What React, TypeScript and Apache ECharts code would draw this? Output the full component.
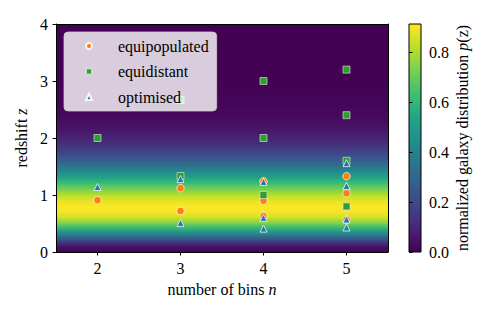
import React, { useEffect, useRef } from "react";
import * as echarts from "echarts";

// ---------- data ----------
const nBins = [2, 3, 4, 5];
const equipopulated = [[0.91], [0.72, 1.12], [0.63, 0.9, 1.24], [0.57, 0.79, 1.03, 1.33]];
const equidistant = [[2.0], [1.333, 2.667], [1.0, 2.0, 3.0], [0.8, 1.6, 2.4, 3.2]];
const optimised = [[1.14], [0.51, 1.28], [0.41, 0.6, 1.23], [0.43, 0.57, 1.16, 1.56]];

const redshiftGrid = [
  0.0, 0.1, 0.2, 0.3, 0.4, 0.5, 0.6, 0.7, 0.8, 0.9, 1.0, 1.1, 1.2, 1.3, 1.4, 1.5, 1.6, 1.7, 1.8, 1.9, 2.0,
  2.1, 2.2, 2.3, 2.4, 2.5, 2.6, 2.7, 2.8, 2.9, 3.0, 3.1, 3.2, 3.3, 3.4, 3.5, 3.6, 3.7, 3.8, 3.9, 4.0,
];
const pz = [
  0.0, 0.055, 0.195, 0.379, 0.566, 0.725, 0.839, 0.9, 0.91, 0.877, 0.812, 0.726, 0.629, 0.531, 0.437, 0.351,
  0.277, 0.214, 0.162, 0.121, 0.089, 0.064, 0.046, 0.032, 0.022, 0.015, 0.01, 0.007, 0.005, 0.003, 0.002,
  0.001, 0.001, 0.0, 0.0, 0.0, 0.0, 0.0, 0.0, 0.0, 0.0,
];
const pMax = 0.912;

const xTicks = [2, 3, 4, 5];
const yTicks = [0, 1, 2, 3, 4];
const colorbarTicks = [0, 0.2, 0.4, 0.6, 0.8];

// ---------- styling ----------
const SERIF = "Liberation Serif";
const FS = 16;
const VIRIDIS = [
  "#440154", "#482475", "#414487", "#355f8d", "#2a788e", "#21918c",
  "#22a884", "#44bf70", "#7ad151", "#bddf26", "#fde725",
];

function hexToRgb(h: string) {
  const v = parseInt(h.slice(1), 16);
  return [(v >> 16) & 255, (v >> 8) & 255, v & 255];
}
const VIRIDIS_RGB = VIRIDIS.map(hexToRgb);
function cmap(t: number) {
  const c = Math.max(0, Math.min(1, t)) * (VIRIDIS_RGB.length - 1);
  const i = Math.min(Math.floor(c), VIRIDIS_RGB.length - 2);
  const f = c - i;
  const a = VIRIDIS_RGB[i];
  const b = VIRIDIS_RGB[i + 1];
  const r = a.map((v, k) => Math.round(v + (b[k] - v) * f));
  return `rgb(${r[0]},${r[1]},${r[2]})`;
}

const heatData = redshiftGrid.slice(0, -1).map((z, i) => [z, redshiftGrid[i + 1], pz[i], pz[i + 1]]);

function toPoints(edges: number[][]) {
  const pts: number[][] = [];
  edges.forEach((list, i) => list.forEach((z) => pts.push([nBins[i], z])));
  return pts;
}

const hiddenAxis = {
  axisLabel: { show: false },
  axisTick: { show: false },
  splitLine: { show: false },
  axisLine: { show: true, onZero: false, lineStyle: { color: "#000", width: 1 } },
  z: 10,
};

export default function App() {
  const ref = useRef<HTMLDivElement>(null);
  useEffect(() => {
    if (!ref.current) return;
    const chart = echarts.init(ref.current, null, { renderer: "svg" });
    const labelStyle = { fontFamily: SERIF, fontSize: FS, color: "#000" };
    const nameStyle = { ...labelStyle, rich: { i: { ...labelStyle, fontStyle: "italic" } } };
    const option: any = {
      animation: false,
      backgroundColor: "#fff",
      textStyle: { fontFamily: SERIF },
      grid: [
        { left: 56, top: 24, width: 332, height: 228 },
        { left: 409, top: 24, width: 12, height: 228 },
      ],
      xAxis: [
        {
          type: "value",
          gridIndex: 0,
          min: 1.5,
          max: 5.5,
          position: "bottom",
          splitLine: { show: false },
          axisLine: { onZero: false, lineStyle: { color: "#000", width: 1 } },
          axisTick: { customValues: xTicks, length: 3.5, lineStyle: { color: "#000" } },
          axisLabel: { customValues: xTicks, margin: 8, ...labelStyle },
          name: "number of bins {i|n}",
          nameLocation: "middle",
          nameGap: 29,
          nameTextStyle: nameStyle,
          z: 10,
        },
        { type: "value", gridIndex: 0, min: 0, max: 1, position: "top", ...hiddenAxis },
        { type: "value", gridIndex: 1, min: 0, max: 1, show: false },
      ],
      yAxis: [
        {
          type: "value",
          gridIndex: 0,
          min: 0,
          max: 4,
          interval: 1,
          position: "left",
          splitLine: { show: false },
          axisLine: { show: true, onZero: false, lineStyle: { color: "#000", width: 1 } },
          axisTick: { show: true, customValues: yTicks, length: 3.5, lineStyle: { color: "#000" } },
          axisLabel: { customValues: yTicks, margin: 8, ...labelStyle },
          name: "redshift {i|z}",
          nameLocation: "middle",
          nameRotate: 90,
          nameGap: 26,
          nameTextStyle: nameStyle,
          z: 10,
        },
        { type: "value", gridIndex: 0, min: 0, max: 1, position: "right", ...hiddenAxis },
        {
          type: "value",
          gridIndex: 1,
          min: 0,
          max: pMax,
          position: "right",
          splitLine: { show: false },
          axisLine: { show: false },
          axisTick: { show: true, customValues: colorbarTicks, length: 3.5, lineStyle: { color: "#000" } },
          axisLabel: {
            customValues: colorbarTicks,
            margin: 8,
            formatter: (v: number) => v.toFixed(1),
            ...labelStyle,
          },
          name: "normalized galaxy distribution {i|p}(z)",
          nameLocation: "middle",
          nameRotate: 90,
          nameGap: 33,
          nameTextStyle: nameStyle,
          z: 10,
        },
      ],
      legend: {
        orient: "vertical",
        left: 64,
        top: 32,
        padding: [5, 8, 5, 21],
        itemGap: 7.5,
        itemWidth: 6,
        itemHeight: 6,
        backgroundColor: "rgba(255,255,255,0.8)",
        borderColor: "rgba(204,204,204,0.8)",
        borderWidth: 1,
        borderRadius: 4,
        textStyle: { ...labelStyle, lineHeight: 18, padding: [0, 0, 0, 21] },
        data: ["equipopulated", "equidistant", "optimised"],
        z: 20,
      },
      series: [
        {
          type: "custom",
          name: "p(z)",
          xAxisIndex: 0,
          yAxisIndex: 0,
          clip: true,
          z: 1,
          silent: true,
          encode: { x: 0, y: [0, 1] },
          data: heatData,
          renderItem: (params: any, api: any) => {
            const z0 = api.value(0);
            const z1 = api.value(1);
            const p0 = api.value(2);
            const p1 = api.value(3);
            const cs = params.coordSys;
            const yTop = api.coord([1.5, z1])[1];
            const yBot = api.coord([1.5, z0])[1];
            return {
              type: "rect",
              shape: { x: cs.x, y: yTop - 0.4, width: cs.width, height: yBot - yTop + 0.8 },
              style: {
                fill: new echarts.graphic.LinearGradient(0, 0, 0, 1, [
                  { offset: 0, color: cmap(p1 / pMax) },
                  { offset: 1, color: cmap(p0 / pMax) },
                ]),
              },
            };
          },
        },
        {
          type: "custom",
          name: "colorbar",
          xAxisIndex: 2,
          yAxisIndex: 2,
          z: 1,
          silent: true,
          data: [[0, pMax]],
          encode: { y: [0, 1] },
          renderItem: (params: any, api: any) => {
            const cs = params.coordSys;
            const yTop = api.coord([0, api.value(1)])[1];
            const yBot = api.coord([0, api.value(0)])[1];
            return {
              type: "rect",
              shape: { x: cs.x, y: yTop, width: cs.width, height: yBot - yTop },
              style: {
                fill: new echarts.graphic.LinearGradient(
                  0, 1, 0, 0,
                  VIRIDIS.map((c, i) => ({ offset: i / (VIRIDIS.length - 1), color: c }))
                ),
                stroke: "#000",
                lineWidth: 1,
              },
            };
          },
        },
        {
          type: "scatter",
          name: "equipopulated",
          xAxisIndex: 0,
          yAxisIndex: 0,
          z: 3,
          symbol: "circle",
          symbolSize: 7.5,
          itemStyle: { color: "#ff7f0e", borderColor: "rgba(255,255,255,0.85)", borderWidth: 0.8, opacity: 1 },
          data: toPoints(equipopulated),
        },
        {
          type: "scatter",
          name: "equidistant",
          xAxisIndex: 0,
          yAxisIndex: 0,
          z: 4,
          symbol: "rect",
          symbolSize: 7,
          itemStyle: { color: "#2ca02c", borderColor: "rgba(220,220,220,0.85)", borderWidth: 0.8, opacity: 1 },
          data: toPoints(equidistant),
        },
        {
          type: "scatter",
          name: "optimised",
          xAxisIndex: 0,
          yAxisIndex: 0,
          z: 5,
          symbol: "triangle",
          symbolSize: 7,
          itemStyle: { color: "#1f77b4", borderColor: "rgba(255,255,255,0.9)", borderWidth: 0.8, opacity: 1 },
          data: toPoints(optimised),
        },
      ],
    };
    chart.setOption(option);
    return () => chart.dispose();
  }, []);
  return (
    <div
      ref={ref}
      style={{ position: "absolute", left: 0, top: 0, width: 495, height: 315, background: "#fff" }}
    />
  );
}
